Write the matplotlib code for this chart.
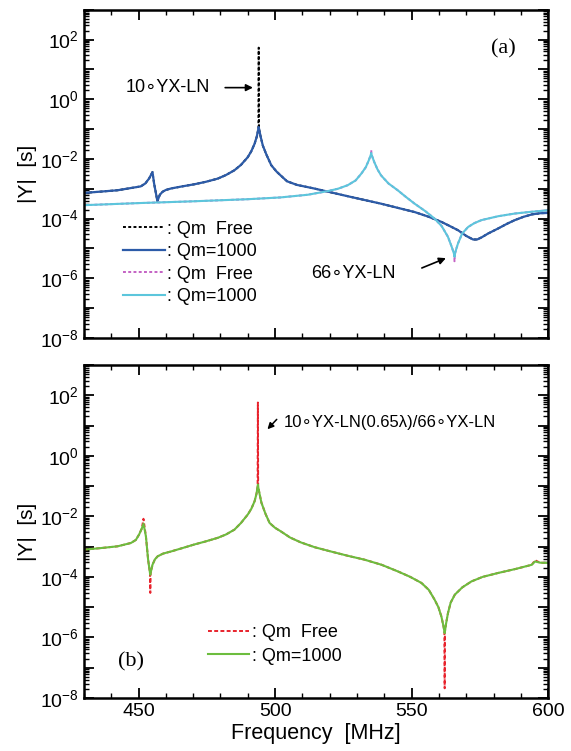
import numpy as np
import matplotlib
matplotlib.use('Agg')
import matplotlib.pyplot as plt
from matplotlib.ticker import LogLocator, MultipleLocator, FuncFormatter, NullFormatter

plt.rcParams['font.family'] = ['Liberation Sans', 'DejaVu Sans']
plt.rcParams['mathtext.fontset'] = 'custom'
plt.rcParams['mathtext.rm'] = 'Liberation Sans'

# ---- (a) 10°YX-LN, Qm=1000 : frequency [MHz], log10|Y| [S]
f_10 = [430, 442.3, 450.8, 452.5, 453.9, 455.1, 455.7, 456.9, 457.8, 458.8, 460, 461.9,
        466, 470.4, 474.5, 479, 482, 485.1, 487.5, 490, 491.3, 492.5, 493.3, 493.9, 494.0,
        494.1, 494.7, 495.5, 496.8, 498.6, 500.5, 502, 504.4, 508, 514.3, 526.6, 538.8,
        551.1, 556, 560.9, 564, 567, 570, 572.5, 574, 575.6, 578, 581.7, 585, 587.8, 591,
        594, 597, 600]
y_10 = [-3.14, -3.05, -2.92, -2.82, -2.65, -2.44, -2.83, -3.41, -3.20, -3.10, -3.04, -2.99,
        -2.92, -2.85, -2.77, -2.66, -2.54, -2.38, -2.20, -1.94, -1.74, -1.49, -1.25, -0.98,
        -0.93, -0.98, -1.25, -1.55, -1.85, -2.21, -2.42, -2.55, -2.75, -2.87, -2.99, -3.25,
        -3.50, -3.78, -3.93, -4.11, -4.25, -4.39, -4.58, -4.70, -4.70, -4.63, -4.50, -4.33,
        -4.17, -4.05, -3.94, -3.86, -3.82, -3.81]
# 10°YX-LN, Qm free: only the resonance tip differs from the Qm=1000 curve
tip_f_10 = [494.0]
tip_y_10 = [1.73]

# 66°YX-LN, Qm=1000
f_66 = [430, 450, 470, 490, 502, 512, 519.2, 523, 526.6, 529.5, 531.6, 533.2, 534.3,
        535.1, 535.2, 535.3, 536.3, 537.5, 538.8, 541.5, 544.9, 548, 551.1, 555, 558.4,
        561, 563.3, 564.7, 565.6, 565.7, 565.8, 566.4, 567, 568.5, 570.7, 573, 575.6,
        581.7, 587.8, 594, 600]
y_66 = [-3.55, -3.48, -3.42, -3.35, -3.29, -3.20, -3.08, -3.00, -2.88, -2.72, -2.49, -2.28,
        -2.05, -1.85, -1.80, -1.85, -2.10, -2.35, -2.55, -2.82, -3.05, -3.28, -3.50, -3.75,
        -4.00, -4.25, -4.61, -4.95, -5.20, -5.28, -5.20, -5.00, -4.83, -4.50, -4.28, -4.15,
        -4.05, -3.92, -3.83, -3.77, -3.72]
# 66°YX-LN, Qm free tips
tip_f_66 = [535.2, 565.7]
tip_y_66 = [-1.70, -5.43]

# ---- (b) 10°YX-LN(0.65λ)/66°YX-LN, Qm=1000
f_b = [430, 436, 442.3, 447.2, 449, 450.2, 451.2, 451.8, 452.7, 453.5, 454.2, 454.3, 454.4,
       455.1, 456, 457, 459, 461.9, 466, 470.4, 474.5, 479, 482, 485.1, 487.5, 490, 491.3,
       492.5, 493.2, 493.6, 493.7, 493.8, 494.3, 495, 496.5, 498, 500, 502, 505.5, 509.4,
       514.5, 520.4, 526.5, 532.7, 539, 545, 549.5, 553.6, 556.3, 558.4, 559.8, 560.9,
       561.6, 562.0, 562.1, 562.2, 562.6, 563.3, 564.3, 565.8, 568.5, 571.9, 576, 581.7,
       588, 594, 595.2, 597, 600]
y_b = [-3.10, -3.05, -2.99, -2.88, -2.78, -2.60, -2.40, -2.24, -2.66, -3.43, -3.88, -3.93,
       -3.88, -3.60, -3.42, -3.32, -3.23, -3.16, -3.05, -2.93, -2.83, -2.71, -2.60, -2.44,
       -2.22, -1.94, -1.75, -1.50, -1.25, -1.02, -0.95, -1.02, -1.25, -1.55, -1.92, -2.22,
       -2.38, -2.49, -2.70, -2.86, -3.02, -3.16, -3.30, -3.43, -3.60, -3.82, -4.00, -4.20,
       -4.43, -4.75, -5.00, -5.31, -5.60, -5.80, -5.86, -5.80, -5.55, -5.20, -4.85, -4.59,
       -4.35, -4.15, -4.00, -3.87, -3.74, -3.60, -3.49, -3.53, -3.54]
# Qm free tips
tip_f_b = [451.8, 454.3, 493.7, 562.1, 595.2]
tip_y_b = [-2.08, -4.53, 1.76, -7.68, -3.45]


def pw(v):
    return 10.0 ** np.asarray(v)


def with_tips(f, y, tf, ty):
    # free curve = damped curve with the resonance tips replaced
    out = list(y)
    for a, b in zip(tf, ty):
        out[f.index(a)] = b
    return out


def dec_label(v, pos):
    e = int(round(np.log10(v)))
    if e % 2 == 0 and e <= 2:
        return r'$\mathregular{10^{%d}}$' % e
    return ''


def style_axes(ax, xlabels):
    ax.set_yscale('log')
    ax.set_xlim(430, 600)
    ax.set_ylim(1e-8, 1e3)
    ax.xaxis.set_major_locator(MultipleLocator(50))
    ax.xaxis.set_minor_locator(MultipleLocator(10))
    ax.yaxis.set_major_locator(LogLocator(base=10, numticks=30))
    ax.yaxis.set_minor_locator(LogLocator(base=10, subs=np.arange(2, 10), numticks=30))
    ax.yaxis.set_major_formatter(FuncFormatter(dec_label))
    ax.yaxis.set_minor_formatter(NullFormatter())
    ax.tick_params(which='both', direction='in', top=True, right=True, labelsize=14)
    ax.tick_params(which='major', length=7, width=1.3)
    ax.tick_params(which='minor', length=3.5, width=1.0)
    if not xlabels:
        ax.tick_params(axis='x', labelbottom=False)
    for s in ax.spines.values():
        s.set_linewidth(1.8)
    ax.set_ylabel('|Y|  [s]', fontsize=15, labelpad=2)


fig = plt.figure(figsize=(5.71, 7.51), dpi=100)
ax1 = fig.add_axes([0.147, 0.550, 0.813, 0.437])
ax2 = fig.add_axes([0.147, 0.0706, 0.813, 0.4434])

dots = (0, (1.5, 1.2))

# panel (a)
l1, = ax1.plot(f_10, pw(with_tips(f_10, y_10, tip_f_10, tip_y_10)), color='black', lw=1.4, ls=dots)
l2, = ax1.plot(f_10, pw(y_10), color='#2c5ba8', lw=1.6)
l3, = ax1.plot(f_66, pw(with_tips(f_66, y_66, tip_f_66, tip_y_66)), color='#c462c4', lw=1.4, ls=dots)
l4, = ax1.plot(f_66, pw(y_66), color='#5cc6dc', lw=1.5)
style_axes(ax1, False)
ax1.legend([l1, l2, l3, l4], [': Qm  Free', ': Qm=1000', ': Qm  Free', ': Qm=1000'],
           loc='center left', bbox_to_anchor=(0.065, 0.229), frameon=False, fontsize=13,
           handlelength=2.3, handletextpad=0.15, labelspacing=0.3, borderpad=0)
ax1.text(476.3, 10 ** 0.39, '10\u2218YX-LN', fontsize=13, ha='right', va='center')
ax1.annotate('', xy=(492.9, 10 ** 0.39), xytext=(480.7, 10 ** 0.39),
             arrowprops=dict(arrowstyle='-|>', color='black', lw=1.2, mutation_scale=10))
ax1.text(513.1, 10 ** -5.83, '66\u2218YX-LN', fontsize=13, ha='left', va='center')
ax1.annotate('', xy=(563.5, 10 ** -5.29), xytext=(552.8, 10 ** -5.69),
             arrowprops=dict(arrowstyle='-|>', color='black', lw=1.2, mutation_scale=10))
ax1.text(0.904, 0.881, '(a)', transform=ax1.transAxes, fontsize=16,
         family='Liberation Serif', ha='center', va='center')

# panel (b)
r1, = ax2.plot(f_b, pw(with_tips(f_b, y_b, tip_f_b, tip_y_b)), color='#e8222c', lw=1.4,
               ls=(0, (2.0, 1.2)))
r2, = ax2.plot(f_b, pw(y_b), color='#6cbd3e', lw=1.5)
style_axes(ax2, True)
ax2.legend([r1, r2], [': Qm  Free', ': Qm=1000'],
           loc='center left', bbox_to_anchor=(0.247, 0.161), frameon=False, fontsize=13,
           handlelength=2.3, handletextpad=0.15, labelspacing=0.35, borderpad=0)
ax2.text(503.2, 10 ** 1.11, '10\u2218YX-LN(0.65\u03bb)/66\u2218YX-LN', fontsize=12,
         ha='left', va='center')
ax2.annotate('', xy=(496.5, 10 ** 0.81), xytext=(501.3, 10 ** 1.27),
             arrowprops=dict(arrowstyle='-|>', color='black', lw=1.1, mutation_scale=9))
ax2.text(0.102, 0.108, '(b)', transform=ax2.transAxes, fontsize=16,
         family='Liberation Serif', ha='center', va='center')
ax2.set_xlabel('Frequency  [MHz]', fontsize=15.5, labelpad=2)

fig.savefig('out.png', dpi=100)
